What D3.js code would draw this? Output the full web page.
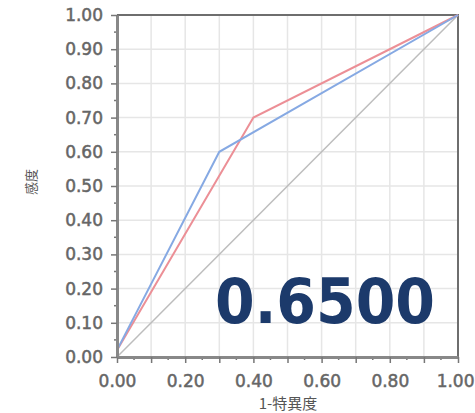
<!DOCTYPE html>
<html>
<head>
<meta charset="utf-8">
<script src="https://cdn.jsdelivr.net/npm/d3@7"></script>
<style>
  body { margin: 0; background: #fff; }
</style>
</head>
<body>
<svg id="roc"></svg>
<script>
// ROC points (1-specificity, sensitivity)
const fprRed = [0, 0.4, 1];
const tprRed = [0.02, 0.7, 1];
const fprBlue = [0, 0.3, 1];
const tprBlue = [0.02, 0.6, 1];
const diagonal = [0, 1];
const aucLabel = "0.6500";
const xTicks = [0, 0.2, 0.4, 0.6, 0.8, 1.0];
const yTicks = [0, 0.1, 0.2, 0.3, 0.4, 0.5, 0.6, 0.7, 0.8, 0.9, 1.0];

const width = 475, height = 413;
const margin = { top: 15, right: 17, bottom: 56, left: 117 };

const svg = d3.select("#roc").attr("width", width).attr("height", height);

const x = d3.scaleLinear().domain([0, 1]).range([margin.left, width - margin.right]);
const y = d3.scaleLinear().domain([0, 1]).range([height - margin.bottom, margin.top]);

const grid = d3.range(0, 1.0001, 0.1);

// grid
svg.append("g").selectAll("line").data(grid).enter().append("line")
  .attr("x1", d => x(d)).attr("x2", d => x(d))
  .attr("y1", y(0)).attr("y2", y(1))
  .attr("stroke", "#e6e6e6").attr("stroke-width", 1.5);
svg.append("g").selectAll("line").data(grid).enter().append("line")
  .attr("x1", x(0)).attr("x2", x(1))
  .attr("y1", d => y(d)).attr("y2", d => y(d))
  .attr("stroke", "#e6e6e6").attr("stroke-width", 1.5);

// top/right border
svg.append("path")
  .attr("d", `M${x(0)},${y(1)}H${x(1)}V${y(0)}`)
  .attr("fill", "none").attr("stroke", "#6e6e6e").attr("stroke-width", 2);

const line = d3.line().x(d => x(d[0])).y(d => y(d[1]));

svg.append("path")
  .datum(diagonal.map(d => [d, d]))
  .attr("d", line).attr("fill", "none")
  .attr("stroke", "#bdbdbd").attr("stroke-width", 1.5);

svg.append("path")
  .datum(fprRed.map((d, i) => [d, tprRed[i]]))
  .attr("d", line).attr("fill", "none")
  .attr("stroke", "#ec8f96").attr("stroke-width", 2);

svg.append("path")
  .datum(fprBlue.map((d, i) => [d, tprBlue[i]]))
  .attr("d", line).attr("fill", "none")
  .attr("stroke", "#86a9e3").attr("stroke-width", 2);

// minor ticks
const minor = d3.range(0.05, 1, 0.1);
svg.append("g").selectAll("line").data(minor).enter().append("line")
  .attr("x1", x(0) - 3).attr("x2", x(0))
  .attr("y1", d => y(d)).attr("y2", d => y(d))
  .attr("stroke", "#777").attr("stroke-width", 1.5);
svg.append("g").selectAll("line").data(minor).enter().append("line")
  .attr("x1", d => x(d)).attr("x2", d => x(d))
  .attr("y1", y(0)).attr("y2", y(0) + 3)
  .attr("stroke", "#777").attr("stroke-width", 1.5);

// axes
const xAxis = svg.append("g")
  .attr("transform", `translate(0,${y(0)})`)
  .call(d3.axisBottom(x).tickValues(grid).tickSize(6).tickSizeOuter(0)
    .tickFormat(d => xTicks.some(t => Math.abs(t - d) < 1e-6) ? d3.format(".2f")(d) : ""));
const yAxis = svg.append("g")
  .attr("transform", `translate(${x(0)},0)`)
  .call(d3.axisLeft(y).tickValues(yTicks).tickSize(6).tickSizeOuter(0).tickFormat(d3.format(".2f")));

[xAxis, yAxis].forEach(g => {
  g.select(".domain").attr("stroke", "#888").attr("stroke-width", 3);
  g.selectAll(".tick line").attr("stroke", "#777").attr("stroke-width", 1.5);
  g.selectAll(".tick text")
    .attr("fill", "#666")
    .attr("stroke", "#666")
    .attr("stroke-width", 0.5)
    .style("font-family", "DejaVu Sans")
    .style("font-size", "17px");
});
xAxis.selectAll(".tick text").attr("y", 18);
yAxis.selectAll(".tick text").attr("x", -14);

// last x label sits against the right edge
xAxis.selectAll(".tick text")
  .filter(d => Math.abs(d - 1) < 1e-6)
  .attr("text-anchor", "end")
  .attr("x", width - 1 - x(1));

// axis titles
svg.append("text")
  .attr("x", 288).attr("y", 409)
  .attr("text-anchor", "middle")
  .attr("fill", "#555")
  .style("font-family", "Noto Sans CJK JP")
  .style("font-size", "15px")
  .text("1-特異度");

svg.append("text")
  .attr("transform", "translate(36,182) rotate(-90)")
  .attr("text-anchor", "middle")
  .attr("fill", "#555")
  .style("font-family", "Noto Sans CJK JP")
  .style("font-size", "13px")
  .text("感度");

// AUC label
svg.append("text")
  .attr("x", 215).attr("y", 323)
  .attr("fill", "#1c3a6b")
  .attr("textLength", 220)
  .attr("lengthAdjust", "spacingAndGlyphs")
  .style("font-family", "DejaVu Sans")
  .style("font-weight", "bold")
  .style("font-size", "62px")
  .text(aucLabel);
</script>
</body>
</html>
